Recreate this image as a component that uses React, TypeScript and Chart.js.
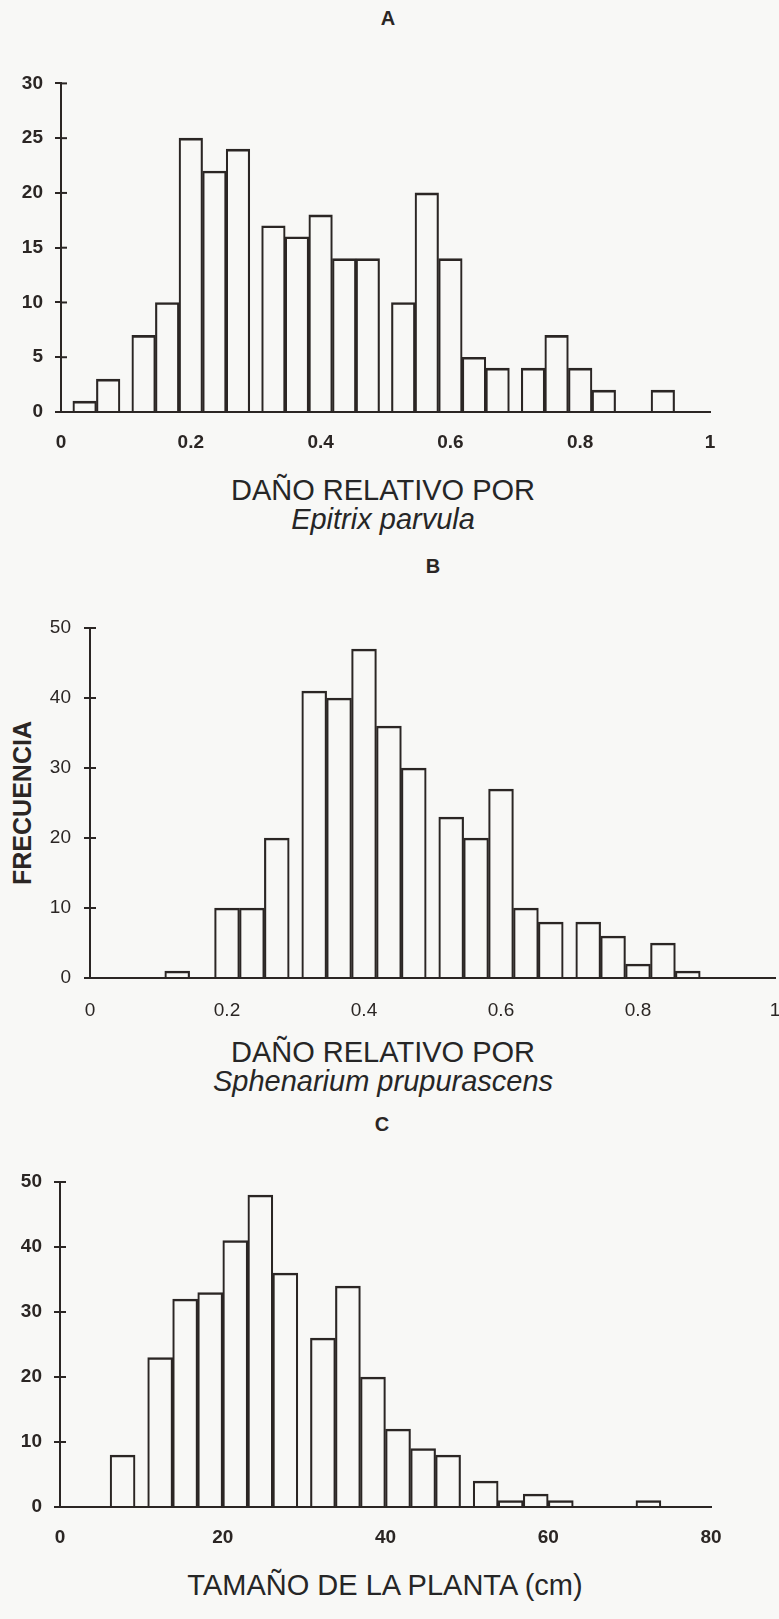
import React, { useEffect, useRef } from "react";
import { Chart, registerables } from "chart.js";

Chart.register(...registerables);

// ---- Data ----
// A: relative damage by Epitrix parvula (bin centres, counts)
const binsA = [0.0364, 0.0727, 0.1273, 0.1636, 0.2, 0.2364, 0.2727, 0.3273, 0.3636, 0.4, 0.4364, 0.4727, 0.5273, 0.5636, 0.6, 0.6364, 0.6727, 0.7273, 0.7636, 0.8, 0.8364, 0.9273];
const countsA = [1, 3, 7, 10, 25, 22, 24, 17, 16, 18, 14, 14, 10, 20, 14, 5, 4, 4, 7, 4, 2, 2];

// B: relative damage by Sphenarium prupurascens
const binsB = [0.1273, 0.2, 0.2364, 0.2727, 0.3273, 0.3636, 0.4, 0.4364, 0.4727, 0.5273, 0.5636, 0.6, 0.6364, 0.6727, 0.7273, 0.7636, 0.8, 0.8364, 0.8727];
const countsB = [1, 10, 10, 20, 41, 40, 47, 36, 30, 23, 20, 27, 10, 8, 8, 6, 2, 5, 1];

// C: plant size (cm)
const binsC = [7.69, 12.31, 15.38, 18.46, 21.54, 24.62, 27.69, 32.31, 35.38, 38.46, 41.54, 44.62, 47.69, 52.31, 55.38, 58.46, 61.54, 72.31];
const countsC = [8, 23, 32, 33, 41, 48, 36, 26, 34, 20, 12, 9, 8, 4, 1, 2, 1, 1];

// Axis ranges / tick steps
const xRangeA = [0, 1, 0.2];
const yRangeA = [0, 30, 5];
const xRangeB = [0, 1, 0.2];
const yRangeB = [0, 50, 10];
const xRangeC = [0, 80, 20];
const yRangeC = [0, 50, 10];

const INK = "#2b2624";
const BG = "#f8f8f6";
const FONT = "'Liberation Sans', Arial, Helvetica, sans-serif";

const fmt = (v: any) => String(Math.round(Number(v) * 100) / 100);

const innerTicks = {
  id: "innerTicks",
  afterDraw(chart: any) {
    const ys = chart.scales.y;
    const ctx = chart.ctx;
    const left = chart.chartArea.left;
    ctx.save();
    ctx.strokeStyle = INK;
    ctx.lineWidth = 2;
    ys.ticks.forEach((t: any) => {
      const py = ys.getPixelForValue(t.value);
      ctx.beginPath();
      ctx.moveTo(left, py);
      ctx.lineTo(left + 6, py);
      ctx.stroke();
    });
    ctx.restore();
  },
};

type HistProps = {
  top: number;
  height: number;
  bins: number[];
  counts: number[];
  xRange: number[];
  yRange: number[];
  padTop: number;
  padRight: number;
  yAxisWidth: number;
  xAxisHeight: number;
  xLabelPad: number;
  yLabelPad: number;
  weight: string;
};

function Histogram(p: HistProps) {
  const ref = useRef<HTMLCanvasElement | null>(null);
  useEffect(() => {
    if (!ref.current) return;
    const tickFont = { family: FONT, size: 19, weight: p.weight as any };
    const chart = new Chart(ref.current, {
      type: "bar",
      data: {
        datasets: [
          {
            data: p.bins.map((x, i) => ({ x, y: p.counts[i] })),
            backgroundColor: "rgba(0,0,0,0)",
            borderColor: INK,
            borderWidth: { top: 2, left: 1.5, right: 1.5, bottom: 0 },
            borderSkipped: "bottom",
            barPercentage: 1,
            categoryPercentage: 1,
          } as any,
        ],
      },
      options: {
        animation: false,
        responsive: false,
        devicePixelRatio: 1,
        layout: { padding: { top: p.padTop, right: p.padRight, left: 0, bottom: 0 } },
        plugins: { legend: { display: false }, tooltip: { enabled: false }, title: { display: false } },
        scales: {
          x: {
            type: "linear",
            offset: false,
            min: p.xRange[0],
            max: p.xRange[1],
            afterFit: (s: any) => {
              s.height = p.xAxisHeight;
              s.paddingLeft = 0;
              s.paddingRight = 3;
            },
            ticks: {
              stepSize: p.xRange[2],
              color: INK,
              font: tickFont,
              padding: p.xLabelPad,
              maxRotation: 0,
              autoSkip: false,
              callback: fmt,
            },
            grid: { display: false, drawTicks: false },
            border: { display: true, color: INK, width: 2 },
          },
          y: {
            min: p.yRange[0],
            max: p.yRange[1],
            afterFit: (s: any) => {
              s.width = p.yAxisWidth;
            },
            ticks: {
              stepSize: p.yRange[2],
              color: INK,
              font: tickFont,
              padding: p.yLabelPad,
              callback: fmt,
            },
            grid: {
              display: true,
              drawOnChartArea: false,
              drawTicks: true,
              tickLength: 6,
              color: INK,
              lineWidth: 2,
            },
            border: { display: true, color: INK, width: 2 },
          },
        },
      } as any,
      plugins: [innerTicks],
    });
    return () => chart.destroy();
  }, []);
  return (
    <canvas
      ref={ref}
      width={779}
      height={p.height}
      style={{ position: "absolute", left: 0, top: p.top, width: 779, height: p.height }}
    />
  );
}

const panelTitle: React.CSSProperties = {
  position: "absolute",
  transform: "translate(-50%, -50%)",
  fontFamily: FONT,
  fontWeight: 700,
  fontSize: 20,
  color: INK,
  lineHeight: 1,
};

const axisTitle: React.CSSProperties = {
  position: "absolute",
  left: 0,
  width: 779,
  textAlign: "center",
  fontFamily: FONT,
  fontSize: 29,
  lineHeight: "29px",
  color: "#262626",
};

export default function App() {
  return (
    <div
      style={{
        position: "absolute",
        left: 0,
        top: 0,
        width: 779,
        height: 1619,
        overflow: "hidden",
        background: BG,
      }}
    >
      <div style={{ ...panelTitle, left: 388, top: 18 }}>A</div>
      <Histogram
        top={60}
        height={400}
        bins={binsA}
        counts={countsA}
        xRange={xRangeA}
        yRange={yRangeA}
        padTop={16}
        padRight={69}
        yAxisWidth={61}
        xAxisHeight={48}
        xLabelPad={19}
        yLabelPad={12}
        weight="bold"
      />
      <div style={{ ...axisTitle, top: 476, left: 383 - 389.5 }}>
        DAÑO RELATIVO POR
        <br />
        <i>Epitrix parvula</i>
      </div>

      <div style={{ ...panelTitle, left: 433, top: 566 }}>B</div>
      <div
        style={{
          position: "absolute",
          left: 22,
          top: 803,
          transform: "translate(-50%, -50%) rotate(-90deg)",
          fontFamily: FONT,
          fontWeight: 700,
          fontSize: 25,
          lineHeight: 1,
          whiteSpace: "nowrap",
          color: INK,
        }}
      >
        FRECUENCIA
      </div>
      <Histogram
        top={590}
        height={440}
        bins={binsB}
        counts={countsB}
        xRange={xRangeB}
        yRange={yRangeB}
        padTop={38}
        padRight={4}
        yAxisWidth={90}
        xAxisHeight={52}
        xLabelPad={21}
        yLabelPad={13}
        weight="normal"
      />
      <div style={{ ...axisTitle, top: 1038, left: 383 - 389.5 }}>
        DAÑO RELATIVO POR
        <br />
        <i>Sphenarium prupurascens</i>
      </div>

      <div style={{ ...panelTitle, left: 382, top: 1124 }}>C</div>
      <Histogram
        top={1140}
        height={420}
        bins={binsC}
        counts={countsC}
        xRange={xRangeC}
        yRange={yRangeC}
        padTop={42}
        padRight={68}
        yAxisWidth={60}
        xAxisHeight={53}
        xLabelPad={19}
        yLabelPad={12}
        weight="bold"
      />
      <div style={{ ...axisTitle, top: 1571, left: 385 - 389.5 }}>TAMAÑO DE LA PLANTA (cm)</div>
    </div>
  );
}
